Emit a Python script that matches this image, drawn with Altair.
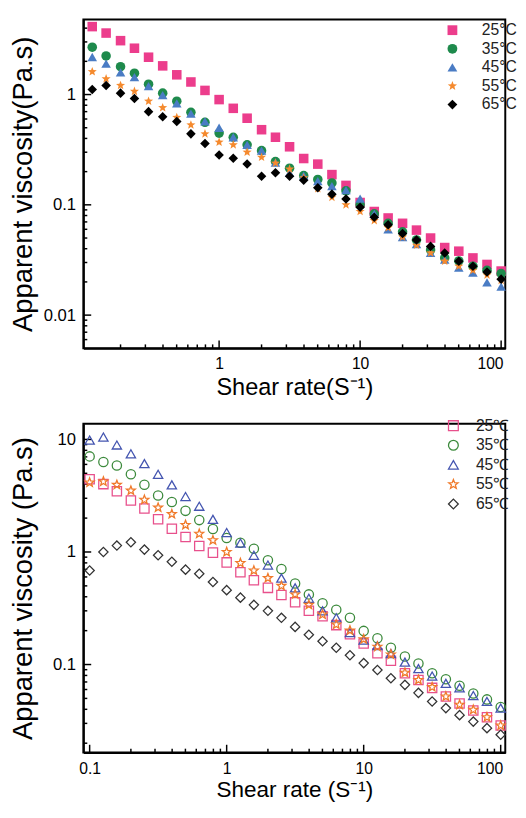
import altair as alt
import pandas as pd

# ---------------- data ----------------
labels_top = ["25°C", "35°C", "45°C", "55°C", "65°C"]
labels_bot = ["25℃", "35℃", "45℃", "55℃", "65℃"]

shear_top = [0.126, 0.158, 0.2, 0.251, 0.316, 0.398, 0.501, 0.631, 0.794, 1.0,
             1.26, 1.58, 2.0, 2.51, 3.16, 3.98, 5.01, 6.31, 7.94, 10.0,
             12.6, 15.8, 20.0, 25.1, 31.6, 39.8, 50.1, 63.1, 79.4, 100.0]

top_25 = [4.13, 3.61, 3.08, 2.63, 2.18, 1.82, 1.51, 1.30, 1.09, 0.90,
          0.75, 0.61, 0.48, 0.41, 0.336, 0.263, 0.234, 0.188, 0.150, 0.105,
          0.087, 0.076, 0.068, 0.059, 0.050, 0.041, 0.038, 0.033, 0.0288, 0.0251]
top_35 = [2.69, 2.24, 1.79, 1.56, 1.24, 1.03, 0.87, 0.69, 0.56, 0.447,
          0.41, 0.35, 0.31, 0.247, 0.215, 0.184, 0.17, 0.158, 0.134, 0.10,
          0.083, 0.068, 0.057, 0.048, 0.039, 0.033, 0.031, 0.0278, 0.0255, 0.0238]
top_45 = [2.19, 1.91, 1.59, 1.44, 1.19, 0.99, 0.83, 0.67, 0.57, 0.50,
          0.41, 0.35, 0.31, 0.242, 0.195, 0.184, 0.164, 0.148, 0.136, 0.114,
          0.083, 0.060, 0.051, 0.044, 0.0366, 0.0319, 0.0269, 0.0243, 0.0198, 0.0181]
top_55 = [1.61, 1.39, 1.21, 1.07, 0.87, 0.76, 0.62, 0.53, 0.44, 0.37,
          0.35, 0.30, 0.27, 0.239, 0.211, 0.176, 0.140, 0.117, 0.100, 0.087,
          0.072, 0.062, 0.051, 0.043, 0.0366, 0.0308, 0.0278, 0.0255, 0.0231, 0.0207]
top_65 = [1.11, 1.21, 1.03, 0.92, 0.70, 0.63, 0.57, 0.44, 0.36, 0.283,
          0.264, 0.235, 0.182, 0.195, 0.182, 0.167, 0.143, 0.125, 0.113, 0.095,
          0.077, 0.066, 0.055, 0.048, 0.042, 0.0366, 0.0308, 0.0278, 0.0246, 0.0212]

shear_bot = [0.1, 0.126, 0.158, 0.2, 0.251, 0.316, 0.398, 0.501, 0.631, 0.794, 1.0,
             1.26, 1.58, 2.0, 2.51, 3.16, 3.98, 5.01, 6.31, 7.94, 10.0,
             12.6, 15.8, 20.0, 25.1, 31.6, 39.8, 50.1, 63.1, 79.4, 100.0]

bot_25 = [4.43, 4.01, 3.46, 2.87, 2.43, 1.95, 1.61, 1.36, 1.13, 0.987, 0.808,
          0.661, 0.56, 0.48, 0.414, 0.358, 0.30, 0.269, 0.224, 0.186, 0.154,
          0.126, 0.108, 0.0835, 0.073, 0.062, 0.052, 0.045, 0.039, 0.034, 0.0287]
bot_35 = [7.07, 6.31, 5.86, 4.9, 3.95, 3.17, 2.78, 2.32, 1.92, 1.60, 1.33,
          1.21, 1.07, 0.846, 0.707, 0.524, 0.42, 0.351, 0.307, 0.26, 0.199,
          0.171, 0.141, 0.118, 0.102, 0.0835, 0.074, 0.0648, 0.0552, 0.049, 0.042]
bot_45 = [9.87, 10.5, 8.93, 7.45, 6.1, 4.9, 3.95, 3.11, 2.55, 1.95, 1.49,
          1.20, 0.935, 0.766, 0.586, 0.48, 0.388, 0.30, 0.26, 0.192, 0.165,
          0.147, 0.125, 0.105, 0.092, 0.079, 0.068, 0.062, 0.053, 0.047, 0.041]
bot_55 = [4.14, 4.23, 3.95, 3.51, 2.91, 2.48, 2.17, 1.74, 1.45, 1.27, 1.0,
          0.797, 0.684, 0.586, 0.50, 0.42, 0.339, 0.278, 0.227, 0.201, 0.168,
          0.144, 0.123, 0.0847, 0.073, 0.063, 0.052, 0.044, 0.0396, 0.034, 0.0287]
bot_65 = [0.684, 1.0, 1.14, 1.22, 1.05, 0.935, 0.819, 0.697, 0.64, 0.541, 0.458,
          0.393, 0.339, 0.30, 0.26, 0.216, 0.184, 0.161, 0.141, 0.121, 0.103,
          0.0893, 0.0756, 0.066, 0.056, 0.047, 0.041, 0.0355, 0.0311, 0.0272, 0.0238]

# axis tick values
top_x_major = [1, 10, 100]
top_x_minor = [0.2, 0.3, 0.4, 0.5, 0.6, 0.7, 0.8, 0.9, 2, 3, 4, 5, 6, 7, 8, 9,
               20, 30, 40, 50, 60, 70, 80, 90]
top_y_major = [0.01, 0.1, 1]
top_y_minor = [0.006, 0.007, 0.008, 0.009, 0.02, 0.03, 0.04, 0.05, 0.06, 0.07, 0.08, 0.09,
               0.2, 0.3, 0.4, 0.5, 0.6, 0.7, 0.8, 0.9, 2, 3, 4]
bot_x_major = [0.1, 1, 10, 100]
bot_x_minor = top_x_minor
bot_y_major = [0.1, 1, 10]
bot_y_minor = [0.02, 0.03, 0.04, 0.05, 0.06, 0.07, 0.08, 0.09,
               0.2, 0.3, 0.4, 0.5, 0.6, 0.7, 0.8, 0.9, 2, 3, 4, 5, 6, 7, 8, 9]

STAR = ("M0,-1L0.247,-0.34L0.951,-0.309L0.4,0.13L0.588,0.809L0,0.42"
        "L-0.588,0.809L-0.4,0.13L-0.951,-0.309L-0.247,-0.34Z")
shapes = ["square", "circle", "triangle-up", STAR, "diamond"]
colors_top = ["#EC3D8C", "#1E8A4C", "#4A7CC4", "#F58A2E", "#000000"]
colors_bot = ["#E8508C", "#3C8A3C", "#4455B0", "#F07A2A", "#333333"]

FONT = "Liberation Sans"
W = 431


def make_df(x, series, labels):
    rows = []
    for lab, vals in zip(labels, series):
        for xv, yv in zip(x, vals):
            rows.append({"shear": xv, "visc": yv, "temp": lab})
    return pd.DataFrame(rows)


def legend(lx, ly, off, rowpad):
    return alt.Legend(title=None, orient="none", legendX=lx, legendY=ly,
                      labelFontSize=16, labelColor="#222", labelFont=FONT,
                      labelOffset=off, rowPadding=rowpad,
                      symbolSize=100, symbolStrokeWidth=1.3, padding=0)


def panel(df, labels, colors, msize, filled, xdom, ydom, xmaj, xmin, ymaj, ymin,
          xtitle, ytitle, ytitle_pad, xtitle_pad, xtitle_size, legx, legy, leg_off, leg_row, height):
    xs = alt.Scale(type="log", domain=xdom, nice=False)
    ys = alt.Scale(type="log", domain=ydom, nice=False)
    xaxis = alt.Axis(
        values=xmaj, format="~g", title=xtitle, grid=False, ticks=False,
        labelPadding=8, labelFontSize=16, labelColor="black", labelFont=FONT,
        labelFlush=5, labelFlushOffset=2,
        titleFontSize=xtitle_size, titleFontWeight="normal", titleColor="black", titleFont=FONT,
        titlePadding=xtitle_pad, domainColor="black", domainWidth=2)
    yaxis = alt.Axis(
        values=ymaj, format="~g", title=ytitle, grid=False, ticks=False,
        labelPadding=8, labelFontSize=17, labelColor="black", labelFont=FONT,
        titleFontSize=28, titleFontWeight="normal", titleColor="black", titleFont=FONT,
        titlePadding=ytitle_pad, domainColor="black", domainWidth=2)

    def x_ticks(vals, length):
        return alt.Chart(pd.DataFrame({"shear": vals})).mark_rule(color="black", strokeWidth=1.5).encode(
            x=alt.X("shear:Q", scale=xs, axis=xaxis),
            y=alt.value(height), y2=alt.value(height - length))

    def y_ticks(vals, length):
        return alt.Chart(pd.DataFrame({"visc": vals})).mark_rule(color="black", strokeWidth=1.5).encode(
            y=alt.Y("visc:Q", scale=ys, axis=yaxis),
            x=alt.value(0), x2=alt.value(length))

    pts = alt.Chart(df).mark_point(filled=filled, opacity=1, strokeWidth=1.3, size=msize).encode(
        x=alt.X("shear:Q", scale=xs, axis=xaxis),
        y=alt.Y("visc:Q", scale=ys, axis=yaxis),
        color=alt.Color("temp:N", scale=alt.Scale(domain=labels, range=colors),
                        legend=legend(legx, legy, leg_off, leg_row)),
        shape=alt.Shape("temp:N", scale=alt.Scale(domain=labels, range=shapes),
                        legend=legend(legx, legy, leg_off, leg_row)),
    )
    layers = [x_ticks(xmin, 4), x_ticks(xmaj, 8), y_ticks(ymin, 4), y_ticks(ymaj, 8), pts]
    return alt.layer(*layers).properties(
        width=W, height=height, view=alt.ViewBackground(stroke="black", strokeWidth=2))


df_top = make_df(shear_top, [top_25, top_35, top_45, top_55, top_65], labels_top)
df_bot = make_df(shear_bot, [bot_25, bot_35, bot_45, bot_55, bot_65], labels_bot)

top = panel(df_top, labels_top, colors_top, 95, True,
            [0.109, 107], [0.005, 4.8], top_x_major, top_x_minor, top_y_major, top_y_minor,
            "Shear rate(S⁻¹)", "Apparent viscosity(Pa.s)", 6, 4, 24, 369, 3, 22, 3, 336)
bot = panel(df_bot, labels_bot, colors_bot, 90, False,
            [0.09, 108], [0.0165, 13.8], bot_x_major, bot_x_minor, bot_y_major, bot_y_minor,
            "Shear rate (S⁻¹)", "Apparent viscosity (Pa.s)", 15, 3, 23, 370, -6, 15, 4, 336)

chart = alt.vconcat(top, bot, spacing=17).resolve_scale(
    color="independent", shape="independent"
).resolve_legend(color="independent", shape="independent").properties(
    padding={"left": 0, "top": 2, "right": 0, "bottom": 0}
)

chart.save("out.html", embed_options={"renderer": "svg", "actions": False})
